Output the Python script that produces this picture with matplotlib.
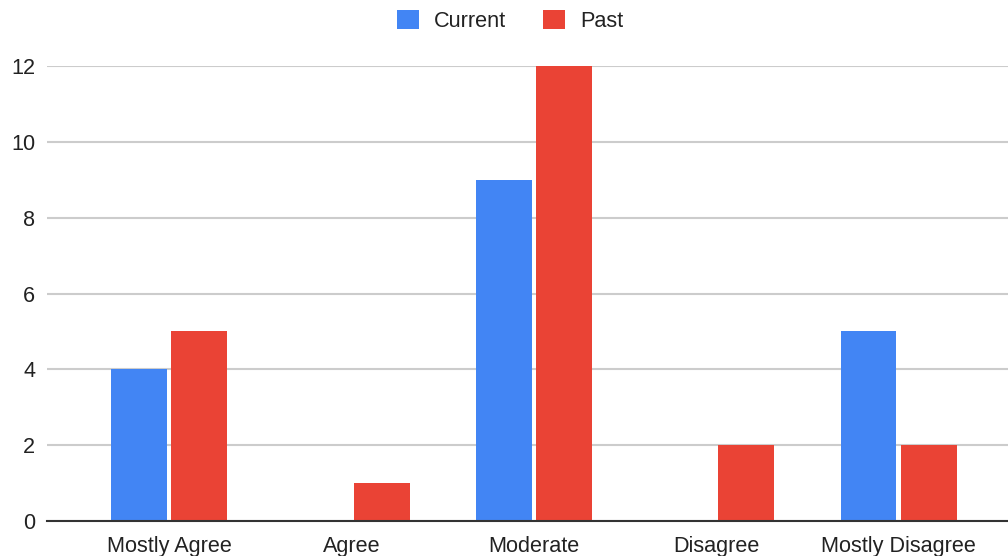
import matplotlib
matplotlib.use("Agg")
import matplotlib.pyplot as plt
from matplotlib.patches import Patch
import numpy as np

categories = ["Mostly Agree", "Agree", "Moderate", "Disagree", "Mostly Disagree"]
current = [4, 0, 9, 0, 5]
past = [5, 1, 12, 2, 2]
y_ticks = [0, 2, 4, 6, 8, 10, 12]

BLUE = "#4285F4"
RED = "#EA4335"

plt.rcParams["font.family"] = ["Liberation Sans", "DejaVu Sans"]

W, H = 1008, 556
fig = plt.figure(figsize=(W / 100, H / 100), dpi=100)
left, right, bottom, top = 47, 1008, 521, 66
ax = fig.add_axes([left / W, (H - bottom) / H, (right - left) / W, (bottom - top) / H])

x = np.arange(len(categories))
bw = 0.307
off = 0.165
ax.bar(x - off, current, width=bw, color=BLUE, zorder=3, clip_on=False)
ax.bar(x + off, past, width=bw, color=RED, zorder=3, clip_on=False)

ax.set_xlim(-0.67, 4.6)
ax.set_ylim(0, 12)
ax.set_yticks(y_ticks)
ax.set_xticks(x)
ax.set_xticklabels(categories)
ax.tick_params(axis="both", length=0, labelsize=15.6, colors="#222222")
ax.tick_params(axis="x", pad=10.5)
ax.tick_params(axis="y", pad=8.5)

ax.grid(axis="y", color="#CCCCCC", linewidth=1.5, zorder=0)
for s in ["top", "right", "left"]:
    ax.spines[s].set_visible(False)
ax.spines["bottom"].set_color("#333333")
ax.spines["bottom"].set_linewidth(1.5)
ax.spines["bottom"].set_zorder(4)

handles = [Patch(facecolor=BLUE, label="Current"), Patch(facecolor=RED, label="Past")]
fig.legend(handles=handles, loc="center", bbox_to_anchor=(510 / W, 1 - 21 / H),
           ncol=2, frameon=False, fontsize=15.6, handlelength=1.0, handleheight=1.0,
           handletextpad=0.7, columnspacing=1.7, labelcolor="#222222")

fig.savefig("out.png", dpi=100, facecolor="white")
